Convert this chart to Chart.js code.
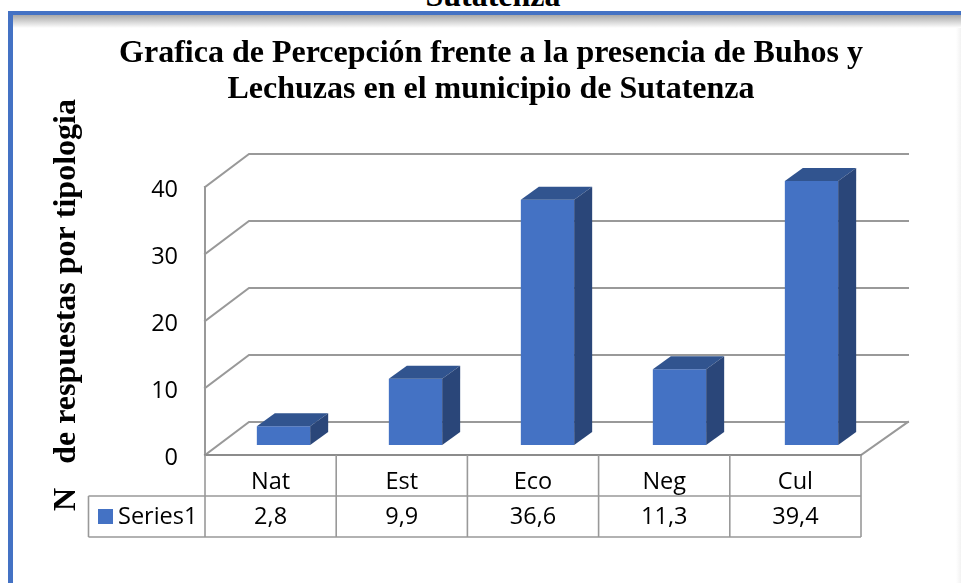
<!DOCTYPE html>
<html><head><meta charset="utf-8">
<style>
html,body{margin:0;padding:0;background:#fff;width:961px;height:583px;overflow:hidden}
#wrap{position:relative;width:961px;height:583px}
canvas{position:absolute;left:0;top:0}
#cut{position:absolute;left:0;width:961px;top:-21px;text-align:center;padding-left:25px;box-sizing:border-box;font:bold 32px "Liberation Serif";color:#000;line-height:32px}
#top{position:absolute;left:8px;right:0;top:11px;height:4px;background:#4472C4}
#left{position:absolute;left:8px;top:11px;bottom:0;width:5px;background:#4472C4}
#shade{position:absolute;left:13px;right:0;top:15px;height:13px;background:linear-gradient(#a8a8a8,#fff)}
#rshade{position:absolute;right:0;top:15px;bottom:0;width:5px;background:linear-gradient(90deg,#fff,#f2f2f2)}
</style>
<script src="https://cdn.jsdelivr.net/npm/chart.js@4/dist/chart.umd.min.js"></script>
</head><body><div id="wrap">
<div id="cut">Sutatenza</div>
<div id="rshade"></div><div id="shade"></div><div id="top"></div><div id="left"></div>
<canvas id="c" width="961" height="583"></canvas></div>
<script>
const categories = ["Nat","Est","Eco","Neg","Cul"];
const values = [2.8,9.9,36.6,11.3,39.4];
const valueLabels = ["2,8","9,9","36,6","11,3","39,4"];
const seriesName = "Series1";
const yTicks = [0,10,20,30,40];
const titleLines = ["Grafica de Percepción frente a la presencia de Buhos y","Lechuzas en el municipio de Sutatenza"];
const yTitle = "N   de respuestas por tipologia";

const BLUE="#4472C4", TOPC="#31548F", SIDE="#2A4679", GRID="#999999";
const WALL={dx:44,dy:-33}, BAR={sx:132/131.2,tx:11.25,ty:-10,dx:18,dy:-13};
const SANS='"Open Sans"';

const scene={
  id:'scene',
  afterLayout(c){ c.titleBlock.left=91; c.titleBlock.right=891; },
  beforeDraw(c){
    const s=c.scales.y;
    if(!s._shifted){
      const orig=s.drawTitle;
      s.drawTitle=function(){const t=this.top,b=this.bottom;this.top=t-16;this.bottom=b-16;orig.call(this);this.top=t;this.bottom=b;};
      s._shifted=true;
    }
  },
  beforeDatasetsDraw(c){
    const g=c.ctx,{left:l,right:r,bottom:b}=c.chartArea,y=c.scales.y;
    g.save();g.strokeStyle=GRID;g.lineWidth=2;g.lineCap='square';
    yTicks.forEach(t=>{const p=y.getPixelForValue(t);
      g.beginPath();g.moveTo(l,p);g.lineTo(l+WALL.dx,p+WALL.dy);g.lineTo(r+WALL.dx+3,p+WALL.dy);g.stroke();});
    g.beginPath();g.moveTo(r,b);g.lineTo(r+WALL.dx+3,b+WALL.dy);g.stroke();
    g.beginPath();g.moveTo(l,y.getPixelForValue(40));g.lineTo(l,b);g.stroke();
    g.strokeStyle='#8C8C8C';g.beginPath();g.moveTo(l,b);g.lineTo(r,b);g.stroke();
    // data table
    const x=c.scales.x,step=x.getPixelForValue(1)-x.getPixelForValue(0);
    g.strokeStyle=GRID;g.lineWidth=1.6;g.lineCap='butt';
    const y1=b+41,y2=b+82,hx=88.5;
    g.beginPath();
    g.moveTo(hx,y1);g.lineTo(r,y1);g.moveTo(hx,y2);g.lineTo(r,y2);g.moveTo(hx,y1);g.lineTo(hx,y2);
    for(let i=0;i<=categories.length;i++){const px=l+i*step;g.moveTo(px,b);g.lineTo(px,y2);}
    g.stroke();
    g.fillStyle=BLUE;g.fillRect(98,509,15,15);
    g.fillStyle='#000';g.font='23.5px '+SANS;g.textAlign='left';g.textBaseline='middle';
    g.fillText(seriesName,118,517.5);
    g.restore();
  },
  beforeDatasetDraw(c){
    const g=c.ctx;g.save();g.translate(BAR.tx,BAR.ty);g.scale(BAR.sx,1);
  },
  afterDatasetDraw(c){
    const g=c.ctx;g.restore();
    g.save();
    c.getDatasetMeta(0).data.forEach(e=>{
      const x0=(e.x-e.width/2)*BAR.sx+BAR.tx,x1=(e.x+e.width/2)*BAR.sx+BAR.tx,t=e.y+BAR.ty,b=e.base+BAR.ty;
      g.fillStyle=TOPC;g.beginPath();g.moveTo(x0,t);g.lineTo(x0+BAR.dx,t+BAR.dy);g.lineTo(x1+BAR.dx,t+BAR.dy);g.lineTo(x1,t);g.closePath();g.fill();
      g.fillStyle=SIDE;g.beginPath();g.moveTo(x1,t);g.lineTo(x1+BAR.dx,t+BAR.dy);g.lineTo(x1+BAR.dx,b+BAR.dy);g.lineTo(x1,b);g.closePath();g.fill();
    });
    g.restore();
  }
};

new Chart(document.getElementById('c'),{
  type:'bar',
  data:{labels:categories,datasets:[{label:seriesName,data:values,backgroundColor:BLUE,borderWidth:0,
    categoryPercentage:1,barPercentage:0.404,clip:false}]},
  options:{
    responsive:false,animation:false,
    layout:{padding:{left:48,right:100,top:0,bottom:0}},
    plugins:{
      legend:{display:false},tooltip:{enabled:false},
      title:{display:true,text:titleLines,color:'#000',
        font:{family:'"Liberation Serif"',size:32,weight:'bold',lineHeight:36/32},
        padding:{top:36,bottom:79}}
    },
    scales:{
      x:{
        grid:{display:false},border:{display:false},
        afterFit(s){s.height=128;},
        ticks:{padding:2,color:'#000',font:{family:SANS,size:23.5,lineHeight:35/23.5},maxRotation:0,autoSkip:false,
          callback(v,i){return [categories[i],valueLabels[i]];}}
      },
      y:{
        min:0,max:40,
        afterBuildTicks(s){s.ticks=yTicks.map(v=>({value:v}));},
        afterFit(s){s.width=157;},
        grid:{display:false},border:{display:false},
        ticks:{padding:19,labelOffset:3,color:'#000',font:{family:SANS,size:23.5}},
        title:{display:true,text:yTitle,color:'#000',
          font:{family:'"Liberation Serif"',size:32,weight:'bold'},padding:{top:0,bottom:0}}
      }
    }
  },
  plugins:[scene]
});
</script></body></html>
